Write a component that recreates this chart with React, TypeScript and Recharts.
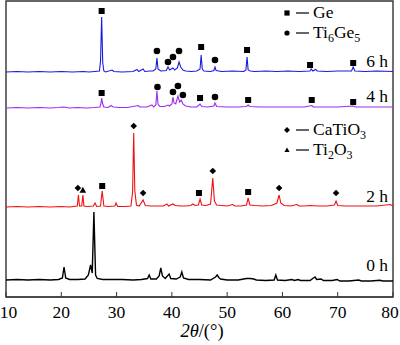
import { ComposedChart, Customized, Line, ReferenceArea, Scatter, XAxis, YAxis } from "recharts"

const SERIF = '"Liberation Serif", "Times New Roman", serif'

const xTicks = [10, 20, 30, 40, 50, 60, 70, 80]

// [2θ, stacked intensity] — each pattern sits on its own offset
const h6: [number, number][] = [
    [10, 225], [12, 225.5], [14, 225], [16, 225.5], [18, 225], [20, 225.5], [22, 225], [24, 225.5],
    [25, 225], [26, 225.5], [26.9, 226], [27.1, 236], [27.3, 280], [27.5, 234], [27.7, 226], [28, 225],
    [29.2, 227], [29.5, 225.5], [31, 225], [33, 225.5], [33.7, 227.5], [34, 225.5], [34.8, 228],
    [35.1, 225.5], [36, 226], [36.6, 226], [37.1, 228], [37.3, 239], [37.5, 228], [38, 226], [39, 226.5],
    [39.3, 230], [39.6, 227], [40.2, 229], [40.5, 227], [41.0, 229], [41.3, 235], [41.6, 230], [42, 227],
    [42.5, 226], [43.5, 225.5], [44.5, 226], [45.1, 228], [45.3, 242], [45.5, 228], [45.8, 226], [47, 225.5],
    [47.6, 226.5], [47.8, 230], [48, 226.5], [49, 225.5], [51, 226], [53, 225.5], [53.4, 227], [53.6, 240],
    [53.8, 227], [54.2, 226], [55, 225.5], [57, 226], [59, 225.5], [61, 226], [63, 225.5], [65, 226],
    [65.2, 228], [65.5, 226], [66.0, 227.5], [66.3, 226], [68, 225.5], [70, 226], [72.5, 226], [72.8, 230],
    [73.1, 226], [75, 225.5], [77, 226], [80, 225.5],
]

const h4: [number, number][] = [
    [10, 189], [12, 189.5], [14, 189], [16, 189.5], [18, 189], [19.5, 189.5], [20.5, 190], [21.5, 189],
    [23, 189.5], [24.5, 189], [26, 189.5], [27, 190], [27.2, 194], [27.3, 199], [27.5, 193], [27.7, 190],
    [28.5, 189.5], [29.0, 191.5], [29.4, 190], [30.5, 189.5], [32, 189.5], [33.9, 191.5], [34.2, 190],
    [35.5, 190], [36.4, 192], [36.7, 190], [37.1, 192], [37.3, 206], [37.5, 193], [37.8, 190.5],
    [38.7, 190.5], [39.3, 192], [39.6, 191], [40.0, 193], [40.2, 200], [40.4, 194], [40.7, 193],
    [41.1, 201], [41.4, 195], [41.7, 197], [42.0, 193], [42.5, 191], [43.5, 190], [44.5, 190],
    [45.1, 193], [45.4, 190.5], [46.5, 190], [47.6, 191], [47.8, 194], [48.1, 190.5], [50, 190], [52, 190],
    [53.5, 190.5], [53.8, 192], [54.1, 190.5], [56, 190], [58, 190], [60, 190], [62, 190], [64, 190],
    [65.3, 191.5], [65.6, 190], [68, 190], [70, 190], [72.8, 191], [73.2, 190], [76, 190], [80, 190],
]

const h2: [number, number][] = [
    [10, 90], [12, 90.5], [14, 90], [16, 90.5], [18, 90], [20, 90.5], [21.5, 90], [22.9, 91], [23.1, 102],
    [23.3, 91], [23.7, 91], [23.9, 102], [24.1, 91], [24.6, 90.5], [25.8, 91], [26.1, 94], [26.4, 90.5],
    [27.1, 91], [27.4, 106], [27.7, 91], [28.5, 90.5], [29.7, 91], [29.9, 94], [30.2, 90.5], [31.5, 90.5],
    [32.6, 91], [32.9, 105], [33.1, 164], [33.3, 106], [33.6, 92], [34.1, 91], [34.8, 97], [35.2, 91.5],
    [36.2, 91], [37.5, 91], [38.5, 91], [39.1, 93], [39.4, 91], [40.2, 93], [40.6, 91.5], [41.5, 91],
    [42.5, 91], [43.4, 91.5], [43.8, 93], [44.2, 91.5], [44.8, 92], [45.1, 98], [45.4, 92], [46.2, 91.5],
    [47.0, 93], [47.4, 119], [47.7, 96], [48.1, 92], [49, 91.5], [50, 91], [51, 92.5], [51.4, 91],
    [52.5, 91], [53.5, 92], [53.8, 99], [54.1, 92], [55, 91.5], [56.5, 91], [58, 91.5], [59, 94],
    [59.4, 102], [59.7, 94], [60.3, 91.5], [61.5, 91], [62.6, 92.5], [63, 91], [64, 91], [65, 91.5],
    [66.5, 91], [68, 91], [69.4, 92], [69.7, 96], [70.0, 91.5], [71.5, 91], [73, 91], [75, 91], [77, 91],
    [79.5, 92.5], [80, 91],
]

const h0: [number, number][] = [
    [10, 17], [12, 17.5], [14, 17], [16, 17.5], [18, 17], [19.5, 17.5], [20.2, 19], [20.5, 30], [20.8, 19],
    [21.5, 17.5], [23, 17.5], [24.3, 18], [24.9, 22], [25.3, 32], [25.6, 24], [25.9, 85], [26.2, 22],
    [26.5, 18.5], [27.5, 17.5], [29, 17.5], [31, 17.5], [33, 17], [34.5, 17.5], [35.6, 18.5], [35.9, 22],
    [36.2, 18], [37.2, 18], [37.7, 21], [38.0, 29], [38.3, 21], [38.8, 18.5], [39.5, 23], [39.8, 18.5],
    [40.8, 18], [41.5, 20], [41.8, 25], [42.1, 19], [43, 17.5], [45, 17.5], [47, 17], [47.9, 20],
    [48.2, 22], [48.5, 19.5], [48.8, 18], [50, 17], [52, 17], [53.5, 18.5], [54.2, 18.5], [54.8, 18],
    [55.3, 17], [57, 16.5], [58.5, 17], [58.8, 22], [59.1, 17], [60.5, 16.5], [61.7, 17.5], [62.2, 16.5],
    [62.8, 17.5], [63.3, 16.5], [65.0, 16.5], [65.6, 19], [65.9, 20], [66.2, 17.5], [67.0, 18], [67.4, 16.5],
    [69.0, 16.5], [69.9, 17.5], [70.4, 16], [72, 16], [73.8, 17], [74.3, 16], [76, 16], [77.6, 16.8],
    [78.2, 16], [80, 16],
]

// phase markers [2θ, height]
const geMarks: [number, number][] = [
    [27.3, 286], [45.3, 250], [53.6, 247], [65.0, 232], [72.8, 234],
    [27.3, 204], [45.1, 199], [53.8, 197], [65.3, 197], [72.8, 195],
    [27.4, 111], [44.9, 104], [53.8, 105],
]
const ti6ge5Marks: [number, number][] = [
    [37.3, 246], [39.3, 235], [40.2, 240], [41.3, 246], [47.8, 237],
    [37.4, 210], [40.2, 205], [41.1, 211], [42.0, 202], [47.8, 200],
]
const catio3Marks: [number, number][] = [
    [23.0, 109], [33.1, 171], [34.8, 104], [47.4, 126], [59.4, 109], [69.7, 104],
]
const ti2o3Marks: [number, number][] = [[23.9, 107]]

const sampleLabels = ["6 h", "4 h", "2 h", "0 h"]

const toRows = (pts: [number, number][]) => pts.map(([x, y]) => ({ x, y }))

type Kind = "square" | "circle" | "diamond" | "triangle"

function Marker({ kind, cx, cy, s }: { kind: Kind; cx: number; cy: number; s: number }) {
    if (kind === "square") return <rect x={cx - s} y={cy - s} width={2 * s} height={2 * s} fill="#000" />
    if (kind === "circle") return <circle cx={cx} cy={cy} r={s} fill="#000" />
    if (kind === "diamond")
        return <polygon points={`${cx},${cy - s} ${cx + s},${cy} ${cx},${cy + s} ${cx - s},${cy}`} fill="#000" />
    return <polygon points={`${cx},${cy - s} ${cx + s},${cy + s * 0.8} ${cx - s},${cy + s * 0.8}`} fill="#000" />
}

const shapeOf = (kind: Kind, s: number) => (p: any) => <Marker kind={kind} cx={p.cx} cy={p.cy} s={s} />

// edge labels are nudged inward so "10" and "80" stay inside the picture
function SerifTick({ x, y, payload }: any) {
    const cx = Math.min(Math.max(x, 8.5), 390)
    return (
        <text x={cx} y={y + 12} textAnchor="middle" fontFamily={SERIF} fontSize={17.5} fill="#000">
            {payload.value}
        </text>
    )
}

function Annotations() {
    const txt = { fontFamily: SERIF, fontSize: 17.5, fill: "#000" }
    const sub = { fontSize: 12 }
    const labelY = [67, 102, 202, 271]
    const legendRow = (kind: Kind, y: number) => (
        <g>
            <Marker kind={kind} cx={287} cy={y - 5} s={kind === "diamond" ? 3 : 2.6} />
            <line x1={296} x2={309} y1={y - 5} y2={y - 5} stroke="#000" strokeWidth={1.2} />
        </g>
    )
    return (
        <g>
            {sampleLabels.map((t, i) => (
                <text key={t} x={388} y={labelY[i]} textAnchor="end" {...txt}>{t}</text>
            ))}
            {legendRow("square", 18)}
            <text x={313} y={18} {...txt}>Ge</text>
            {legendRow("circle", 38)}
            <text x={313} y={38} {...txt}>Ti<tspan dy={4} {...sub}>6</tspan><tspan dy={-4}>Ge</tspan><tspan dy={4} {...sub}>5</tspan></text>
            {legendRow("diamond", 135)}
            <text x={313} y={135} {...txt}>CaTiO<tspan dy={4} {...sub}>3</tspan></text>
            {legendRow("triangle", 155)}
            <text x={313} y={155} {...txt}>Ti<tspan dy={4} {...sub}>2</tspan><tspan dy={-4}>O</tspan><tspan dy={4} {...sub}>3</tspan></text>
            <text x={202} y={337} textAnchor="middle" {...txt} fontSize={18.5}>
                <tspan fontStyle="italic">2θ</tspan>/(°)
            </text>
        </g>
    )
}

export default function App() {
    return (
        <div style={{ position: "absolute", left: 0, top: 0 }}>
            <ComposedChart width={400} height={345} margin={{ top: 1, right: 7, bottom: 0, left: 6 }}>
                <XAxis
                    dataKey="x"
                    type="number"
                    domain={[10, 80]}
                    ticks={xTicks}
                    interval={0}
                    height={48}
                    tickSize={-5}
                    tickMargin={14}
                    stroke="#333"
                    tick={<SerifTick />}
                />
                <YAxis dataKey="y" type="number" domain={[0, 296]} hide width={0} />
                <ReferenceArea x1={10} x2={80} y1={0} y2={296} fill="none" stroke="#333" strokeWidth={1.4} />
                <Line data={toRows(h0)} dataKey="y" stroke="#000" strokeWidth={1.4} dot={false} isAnimationActive={false} />
                <Line data={toRows(h2)} dataKey="y" stroke="#ee1111" strokeWidth={1.1} dot={false} isAnimationActive={false} />
                <Line data={toRows(h4)} dataKey="y" stroke="#9a2cf0" strokeWidth={1.1} dot={false} isAnimationActive={false} />
                <Line data={toRows(h6)} dataKey="y" stroke="#1a1ae0" strokeWidth={1.1} dot={false} isAnimationActive={false} />
                <Scatter data={toRows(geMarks)} dataKey="y" shape={shapeOf("square", 3)} isAnimationActive={false} />
                <Scatter data={toRows(ti6ge5Marks)} dataKey="y" shape={shapeOf("circle", 3.3)} isAnimationActive={false} />
                <Scatter data={toRows(catio3Marks)} dataKey="y" shape={shapeOf("diamond", 3.3)} isAnimationActive={false} />
                <Scatter data={toRows(ti2o3Marks)} dataKey="y" shape={shapeOf("triangle", 3.3)} isAnimationActive={false} />
                <Customized component={Annotations} />
            </ComposedChart>
        </div>
    )
}
